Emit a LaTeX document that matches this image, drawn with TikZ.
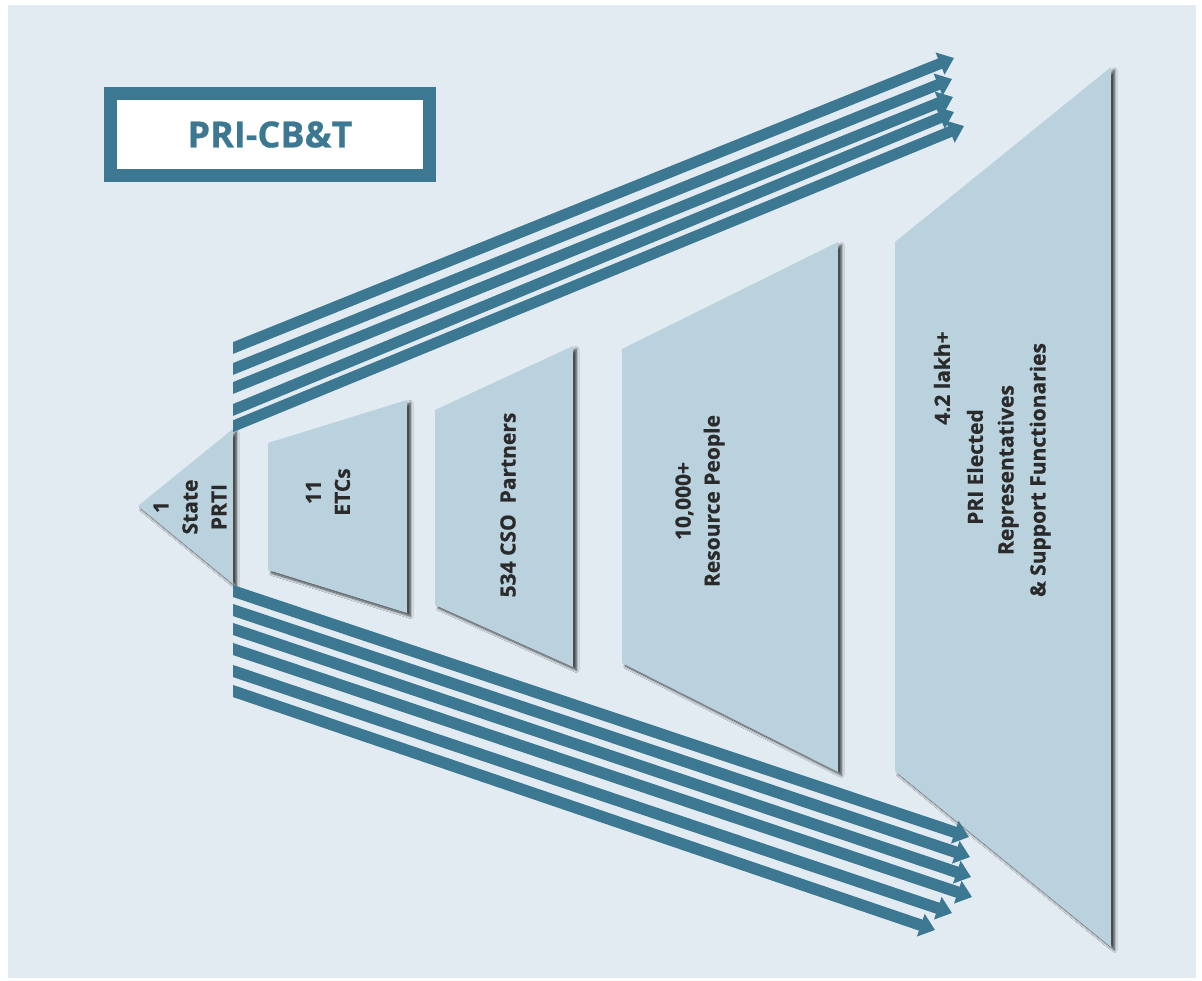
\documentclass[tikz,border=0pt]{standalone}
\usepackage{fontspec}
\setmainfont{Open Sans}[BoldFeatures={FakeBold=0.6}]
\usetikzlibrary{arrows.meta,calc,shadows.blur}
\definecolor{pagebg}{HTML}{E2EBF2}
\definecolor{brandteal}{HTML}{3C7891}
\definecolor{stagefill}{HTML}{B9D2DD}
\definecolor{labeltext}{HTML}{2A2A2A}
\begin{document}
\begin{tikzpicture}[x=1pt,y=-1pt,
  stage/.style={fill=stagefill, blur shadow={shadow xshift=3.5pt, shadow yshift=-3pt, shadow blur radius=2.5pt, shadow opacity=75, shadow blur steps=10}},
  flow/.style={draw=brandteal, line width=11pt, -{Triangle[length=15pt,width=23pt]}},
  lbl/.style={rotate=90, align=center, inner sep=0pt, text=labeltext, font=\bfseries\fontsize{21}{29}\selectfont}]
\useasboundingbox (0,0) rectangle (1202,981);
% page and panel
\fill[white] (0,0) rectangle (1202,981);
\fill[pagebg] (8,5) rectangle (1196,978);

% title box
\node[draw=brandteal, line width=13pt, fill=white, minimum width=319pt, minimum height=82pt,
      text=brandteal, font=\bfseries\fontsize{36}{40}\selectfont] (title) at (270,134.5) {PRI-CB\&T};

% the five stages, widening to the right
\path[stage] (138,506) -- (233,429) -- (233,584) -- cycle;
\path[stage] (268,443) -- (407,400) -- (407,613) -- (268,570) -- cycle;
\path[stage] (435,410) -- (573,346) -- (573,667) -- (435,605) -- cycle;
\path[stage] (622,349) -- (838,242) -- (838,772) -- (622,663) -- cycle;
\path[stage] (895,242) -- (1111,67) -- (1111,947) -- (895,771) -- cycle;

% fan of arrows
\coordinate (u1s) at (233,348); \coordinate (u1e) at (954,58);
\coordinate (u2s) at (233,369); \coordinate (u2e) at (952,79);
\coordinate (u3s) at (233,388); \coordinate (u3e) at (953,97);
\coordinate (u4s) at (233,410); \coordinate (u4e) at (954,112);
\coordinate (u5s) at (236,425); \coordinate (u5e) at (964,126);
\coordinate (d1s) at (233,591); \coordinate (d1e) at (969,837);
\coordinate (d2s) at (233,610); \coordinate (d2e) at (970,857);
\coordinate (d3s) at (233,629); \coordinate (d3e) at (971,877);
\coordinate (d4s) at (233,649); \coordinate (d4e) at (972,897);
\coordinate (d5s) at (233,671); \coordinate (d5e) at (952,913);
\coordinate (d6s) at (233,691); \coordinate (d6e) at (935,930);
\begin{scope}
  \clip (233,0) rectangle (1202,981);
  \foreach \a in {u1,u2,u3,u4,u5}
    \draw[flow] ($(\a s)!-14pt!(\a e)$) -- (\a e);
  \foreach \a in {d1,d2,d3,d4,d5,d6}
    \draw[flow, line width=11.5pt] ($(\a s)!-14pt!(\a e)$) -- (\a e);
\end{scope}

% stage labels
\node[lbl] (prti) at (190,507) {1\\State\\PRTI};
\node[lbl] (etc) at (328,492) {11\\ETCs};
\node[lbl] (cso) at (508,505) {534 CSO\ \ Partners};
\node[lbl] (rp) at (700,501) {10,000+\\Resource People};
\node[lbl] (pri1) at (942,378) {4.2 lakh+};
\node[lbl] (pri2) at (975,467) {PRI Elected};
\node[lbl] (pri3) at (1008,470) {Representatives};
\node[lbl] (pri4) at (1040,470) {\& Support Functionaries};
\end{tikzpicture}
\end{document}
